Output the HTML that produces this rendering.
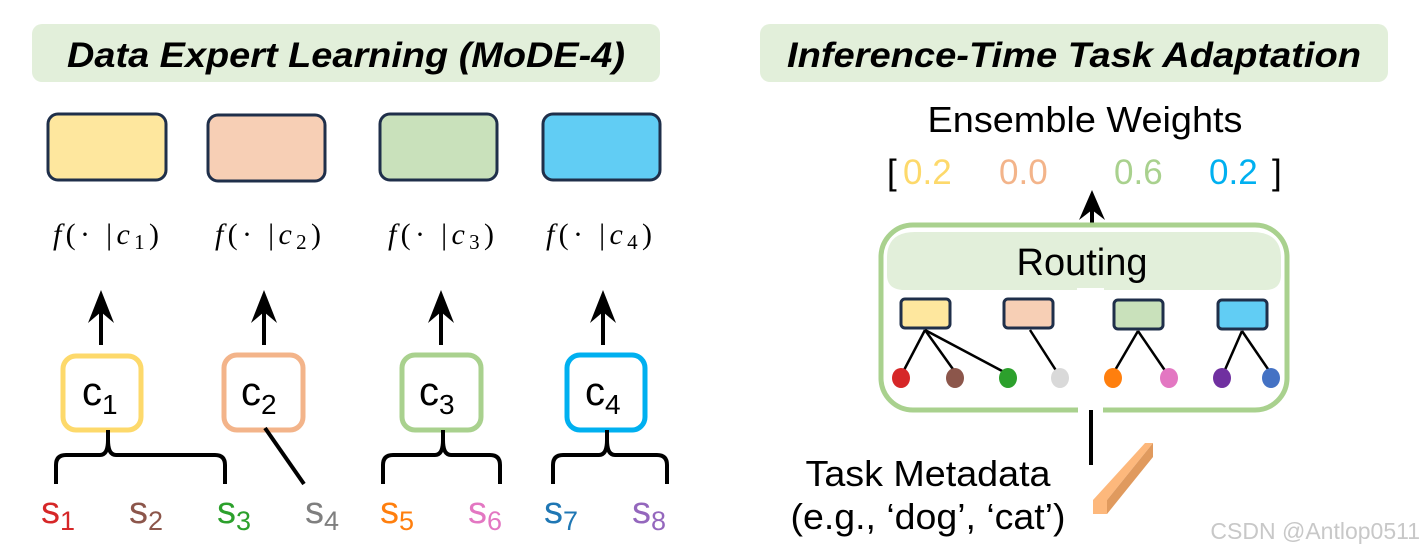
<!DOCTYPE html>
<html><head><meta charset="utf-8"><style>
html,body{margin:0;padding:0;background:#fff;}
svg{display:block;}
text{font-family:"Liberation Sans",sans-serif;}
text.ser{font-family:"Liberation Serif",serif;}
</style></head><body>
<svg width="1424" height="557" viewBox="0 0 1424 557" xmlns="http://www.w3.org/2000/svg">
<!-- banners -->
<rect x="32" y="24" width="628" height="58" rx="10" fill="#e2efda"/>
<text x="346" y="67" font-size="35" font-weight="bold" font-style="italic" text-anchor="middle" fill="#000" textLength="558" lengthAdjust="spacingAndGlyphs">Data Expert Learning (MoDE-4)</text>
<rect x="760" y="24" width="628" height="58" rx="10" fill="#e2efda"/>
<text x="1074" y="67" font-size="35" font-weight="bold" font-style="italic" text-anchor="middle" fill="#000" textLength="574" lengthAdjust="spacingAndGlyphs">Inference-Time Task Adaptation</text>

<!-- expert boxes -->
<g stroke="#1f2f4a" stroke-width="3">
<rect x="48" y="114" width="118" height="66" rx="10" fill="#fee79e"/>
<rect x="208" y="115" width="117" height="66" rx="10" fill="#f7cfb5"/>
<rect x="380" y="114" width="117" height="66" rx="10" fill="#c9e1bb"/>
<rect x="543" y="114" width="117" height="66" rx="10" fill="#61cdf4"/>
</g>
<g font-size="30" fill="#000">
<text class="ser" x="53" y="244" textLength="106" lengthAdjust="spacing"><tspan font-style="italic">f</tspan>(· |<tspan font-style="italic">c</tspan><tspan font-size="21" dy="5">1</tspan><tspan dy="-5">)</tspan></text>
<text class="ser" x="215" y="244" textLength="106" lengthAdjust="spacing"><tspan font-style="italic">f</tspan>(· |<tspan font-style="italic">c</tspan><tspan font-size="21" dy="5">2</tspan><tspan dy="-5">)</tspan></text>
<text class="ser" x="388" y="244" textLength="106" lengthAdjust="spacing"><tspan font-style="italic">f</tspan>(· |<tspan font-style="italic">c</tspan><tspan font-size="21" dy="5">3</tspan><tspan dy="-5">)</tspan></text>
<text class="ser" x="546" y="244" textLength="106" lengthAdjust="spacing"><tspan font-style="italic">f</tspan>(· |<tspan font-style="italic">c</tspan><tspan font-size="21" dy="5">4</tspan><tspan dy="-5">)</tspan></text>
</g>

<!-- arrows left -->
<g stroke="#000" stroke-width="4" fill="#000">
<line x1="101" y1="345" x2="101" y2="300"/><polygon points="101,290 88,323 101,312 114,323" stroke="none"/>
<line x1="264" y1="345" x2="264" y2="300"/><polygon points="264,290 251,323 264,312 277,323" stroke="none"/>
<line x1="441" y1="345" x2="441" y2="300"/><polygon points="441,290 428,323 441,312 454,323" stroke="none"/>
<line x1="603" y1="345" x2="603" y2="300"/><polygon points="603,290 590,323 603,312 616,323" stroke="none"/>
</g>

<!-- c boxes -->
<g stroke-width="5" fill="#fff">
<rect x="63" y="356" width="78" height="74" rx="13" stroke="#fdd96b"/>
<rect x="224" y="355" width="79" height="75" rx="13" stroke="#f3b48a"/>
<rect x="402" y="355" width="79" height="75" rx="13" stroke="#a9d18e"/>
<rect x="567" y="355" width="78" height="75" rx="13" stroke="#00b0f0"/>
</g>
<g font-size="40" fill="#000">
<text x="82" y="405">c<tspan font-size="28" dy="9">1</tspan></text>
<text x="241" y="405">c<tspan font-size="28" dy="9">2</tspan></text>
<text x="419" y="405">c<tspan font-size="28" dy="9">3</tspan></text>
<text x="585" y="405">c<tspan font-size="28" dy="9">4</tspan></text>
</g>

<!-- braces -->
<g stroke="#000" stroke-width="4" fill="none" stroke-linejoin="round">
<path d="M56,484 L56,465 Q56,455 66,455 L100,455 Q108,455 108,440 L108,430 M108,440 Q108,455 116,455 L215,455 Q225,455 225,465 L225,484"/>
<line x1="265" y1="428" x2="304" y2="484"/>
<path d="M383,484 L383,465 Q383,455 393,455 L435,455 Q443,455 443,440 L443,430 M443,440 Q443,455 451,455 L490,455 Q500,455 500,465 L500,484"/>
<path d="M553,484 L553,465 Q553,455 563,455 L599,455 Q607,455 607,440 L607,430 M607,440 Q607,455 615,455 L657,455 Q667,455 667,465 L667,484"/>
</g>

<!-- s labels -->
<g font-size="38">
<text x="41" y="523" fill="#d62728">s<tspan font-size="27" dy="7">1</tspan></text>
<text x="129" y="523" fill="#8c564b">s<tspan font-size="27" dy="7">2</tspan></text>
<text x="217" y="523" fill="#2ca02c">s<tspan font-size="27" dy="7">3</tspan></text>
<text x="305" y="523" fill="#7f7f7f">s<tspan font-size="27" dy="7">4</tspan></text>
<text x="380" y="523" fill="#ff7f0e">s<tspan font-size="27" dy="7">5</tspan></text>
<text x="468" y="523" fill="#e377c2">s<tspan font-size="27" dy="7">6</tspan></text>
<text x="544" y="523" fill="#1f77b4">s<tspan font-size="27" dy="7">7</tspan></text>
<text x="632" y="523" fill="#9467bd">s<tspan font-size="27" dy="7">8</tspan></text>
</g>

<!-- right side -->
<text x="1085" y="132" font-size="36" text-anchor="middle" fill="#000" textLength="315" lengthAdjust="spacingAndGlyphs">Ensemble Weights</text>
<g font-size="35">
<text x="887" y="184" fill="#000">[</text>
<text x="903" y="184" fill="#fdd96b">0.2</text>
<text x="999" y="184" fill="#f3b48a">0.0</text>
<text x="1114" y="184" fill="#a9d18e">0.6</text>
<text x="1209" y="184" fill="#00b0f0">0.2</text>
<text x="1272" y="184" fill="#000">]</text>
</g>
<line x1="1092" y1="226" x2="1092" y2="200" stroke="#000" stroke-width="4"/>
<polygon points="1092,190 1079,220 1092,210 1105,220" fill="#000"/>

<rect x="881" y="225" width="406" height="185" rx="32" fill="#fff" stroke="#a9d18e" stroke-width="5"/>
<path d="M887,258 Q887,232 915,232 L1252,232 Q1281,232 1281,258 L1281,275 Q1281,290 1265,290 L905,290 Q887,290 887,275 Z" fill="#e2efda"/>
<rect x="1077" y="288" width="27" height="4" fill="#fff"/>
<text x="1082" y="275" font-size="38" text-anchor="middle" fill="#000">Routing</text>
<g stroke="#1f2f4a" stroke-width="3">
<rect x="901" y="299" width="49" height="29" rx="4" fill="#fee79e"/>
<rect x="1004" y="299" width="49" height="29" rx="4" fill="#f7cfb5"/>
<rect x="1114" y="300" width="49" height="29" rx="4" fill="#c9e1bb"/>
<rect x="1218" y="300" width="49" height="29" rx="4" fill="#61cdf4"/>
</g>
<g stroke="#000" stroke-width="2.5">
<line x1="925" y1="330" x2="903" y2="372"/><line x1="925" y1="330" x2="955" y2="372"/><line x1="925" y1="330" x2="1004" y2="372"/>
<line x1="1030" y1="330" x2="1057" y2="372"/>
<line x1="1138" y1="331" x2="1114" y2="372"/><line x1="1138" y1="331" x2="1166" y2="372"/>
<line x1="1242" y1="331" x2="1224" y2="372"/><line x1="1242" y1="331" x2="1270" y2="372"/>
</g>
<g>
<ellipse cx="901" cy="378" rx="9" ry="10" fill="#d62728"/>
<ellipse cx="955" cy="378" rx="9" ry="10" fill="#8c564b"/>
<ellipse cx="1008" cy="378" rx="9" ry="10" fill="#2ca02c"/>
<ellipse cx="1060" cy="378" rx="9" ry="10" fill="#d9d9d9"/>
<ellipse cx="1113" cy="378" rx="9" ry="10" fill="#ff7f0e"/>
<ellipse cx="1169" cy="378" rx="9" ry="10" fill="#e377c2"/>
<ellipse cx="1222" cy="378" rx="9" ry="10" fill="#7030a0"/>
<ellipse cx="1271" cy="378" rx="9" ry="10" fill="#4472c4"/>
</g>
<rect x="1078" y="405" width="25" height="8" fill="#fff"/>
<line x1="1091" y1="410" x2="1091" y2="465" stroke="#000" stroke-width="4"/>
<polygon points="1093,500 1145,443 1153,443 1107,500" fill="#fdb87c"/>
<polygon points="1107,500 1153,443 1153,457 1107,514" fill="#e09a5e"/>
<rect x="1093" y="500" width="14" height="14" fill="#fdb87c"/>
<text x="928" y="486" font-size="36" text-anchor="middle" fill="#000" textLength="245" lengthAdjust="spacingAndGlyphs">Task Metadata</text>
<text x="928" y="529" font-size="36" text-anchor="middle" fill="#000" textLength="275" lengthAdjust="spacingAndGlyphs">(e.g., ‘dog’, ‘cat’)</text>
<text x="1420" y="539" font-size="23" text-anchor="end" fill="#c8c8c8">CSDN @Antlop0511</text>
</svg>
</body></html>
